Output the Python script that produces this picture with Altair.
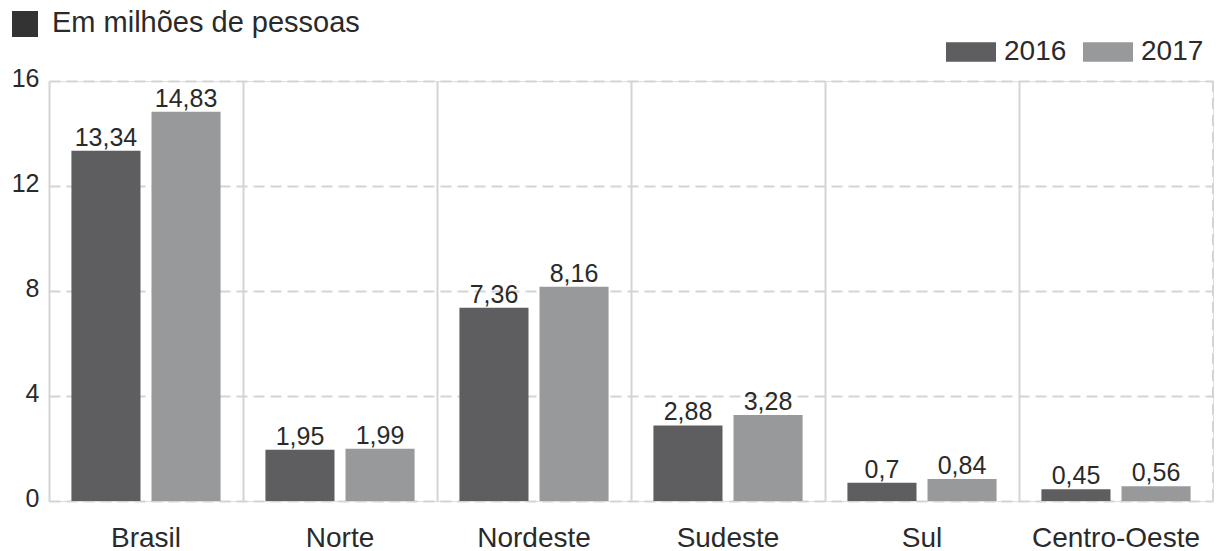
import altair as alt
import pandas as pd

regions = ["Brasil", "Norte", "Nordeste", "Sudeste", "Sul", "Centro-Oeste"]
years = ["2016", "2017"]
v2016 = [13.34, 1.95, 7.36, 2.88, 0.70, 0.45]
v2017 = [14.83, 1.99, 8.16, 3.28, 0.84, 0.56]
lab2016 = ["13,34", "1,95", "7,36", "2,88", "0,7", "0,45"]
lab2017 = ["14,83", "1,99", "8,16", "3,28", "0,84", "0,56"]
y_ticks = [0, 4, 8, 12, 16]
title_text = "Em milhões de pessoas"

rows = []
for r, a, b, la, lb in zip(regions, v2016, v2017, lab2016, lab2017):
    rows.append({"regiao": r, "ano": "2016", "valor": a, "rotulo": la})
    rows.append({"regiao": r, "ano": "2017", "valor": b, "rotulo": lb})
df = pd.DataFrame(rows)

FONT = "Liberation Sans"
W, H = 1164, 420
GRID = "#d4d4d4"
TXT = "#2a2a2a"

x = alt.X("regiao:N", sort=regions, title=None,
          scale=alt.Scale(paddingInner=0, paddingOuter=0),
          axis=alt.Axis(bandPosition=0, grid=True, gridColor=GRID, gridWidth=2,
                        domain=False, ticks=False, labelFontSize=28, labelFont=FONT,
                        labelColor=TXT, labelPadding=23, labelAngle=0))
xo = alt.XOffset("ano:N", sort=years,
                 scale=alt.Scale(paddingInner=0.1375, paddingOuter=0.28))
y = alt.Y("valor:Q", title=None,
          scale=alt.Scale(domain=[0, 16], nice=False),
          axis=alt.Axis(values=y_ticks, grid=True, gridColor=GRID, gridWidth=2,
                        gridDash=[11, 6], domain=False, ticks=False,
                        labelFontSize=25, labelFont=FONT, labelColor=TXT,
                        labelPadding=10, labelOffset=-3))
color = alt.Color("ano:N", sort=years,
                  scale=alt.Scale(domain=years, range=["#5e5e60", "#98999b"]),
                  legend=alt.Legend(title=None, orient="none", legendX=897, legendY=-54,
                                    direction="horizontal",
                                    symbolType="M-1,-0.39L1,-0.39L1,0.39L-1,0.39Z",
                                    symbolSize=2500, symbolStrokeWidth=0, symbolOpacity=1,
                                    labelFontSize=28, labelFont=FONT, labelColor=TXT,
                                    labelOffset=8, columnPadding=16))

base = alt.Chart(df)
bars = base.mark_bar().encode(x=x, xOffset=xo, y=y, color=color)
labels = base.mark_text(fontSize=25, font=FONT, color=TXT, baseline="alphabetic",
                        dy=-5).encode(x=x, xOffset=xo, y=y, text="rotulo:N")

one = pd.DataFrame({"t": [title_text]})

right_edge = alt.Chart(one).mark_rule(
    color=GRID, strokeWidth=2, strokeDash=[11, 6]
).encode(x=alt.value(W), y=alt.value(0), y2=alt.value(H))

square = alt.Chart(one).mark_square(
    color="#333333", size=676, opacity=1
).encode(x=alt.value(-24), y=alt.value(-57))

title = alt.Chart(one).mark_text(
    fontSize=29, font=FONT, color=TXT, align="left", baseline="alphabetic"
).encode(x=alt.value(3), y=alt.value(-49), text="t:N")

chart = alt.layer(right_edge, bars, labels, square, title).properties(
    width=W, height=H,
    autosize=alt.AutoSizeParams(type="none"),
    padding={"left": 49, "top": 81, "right": 5, "bottom": 50},
).configure_view(stroke=None).configure(background="white")

chart.save("out.html", embed_options={"renderer": "svg", "actions": False})
